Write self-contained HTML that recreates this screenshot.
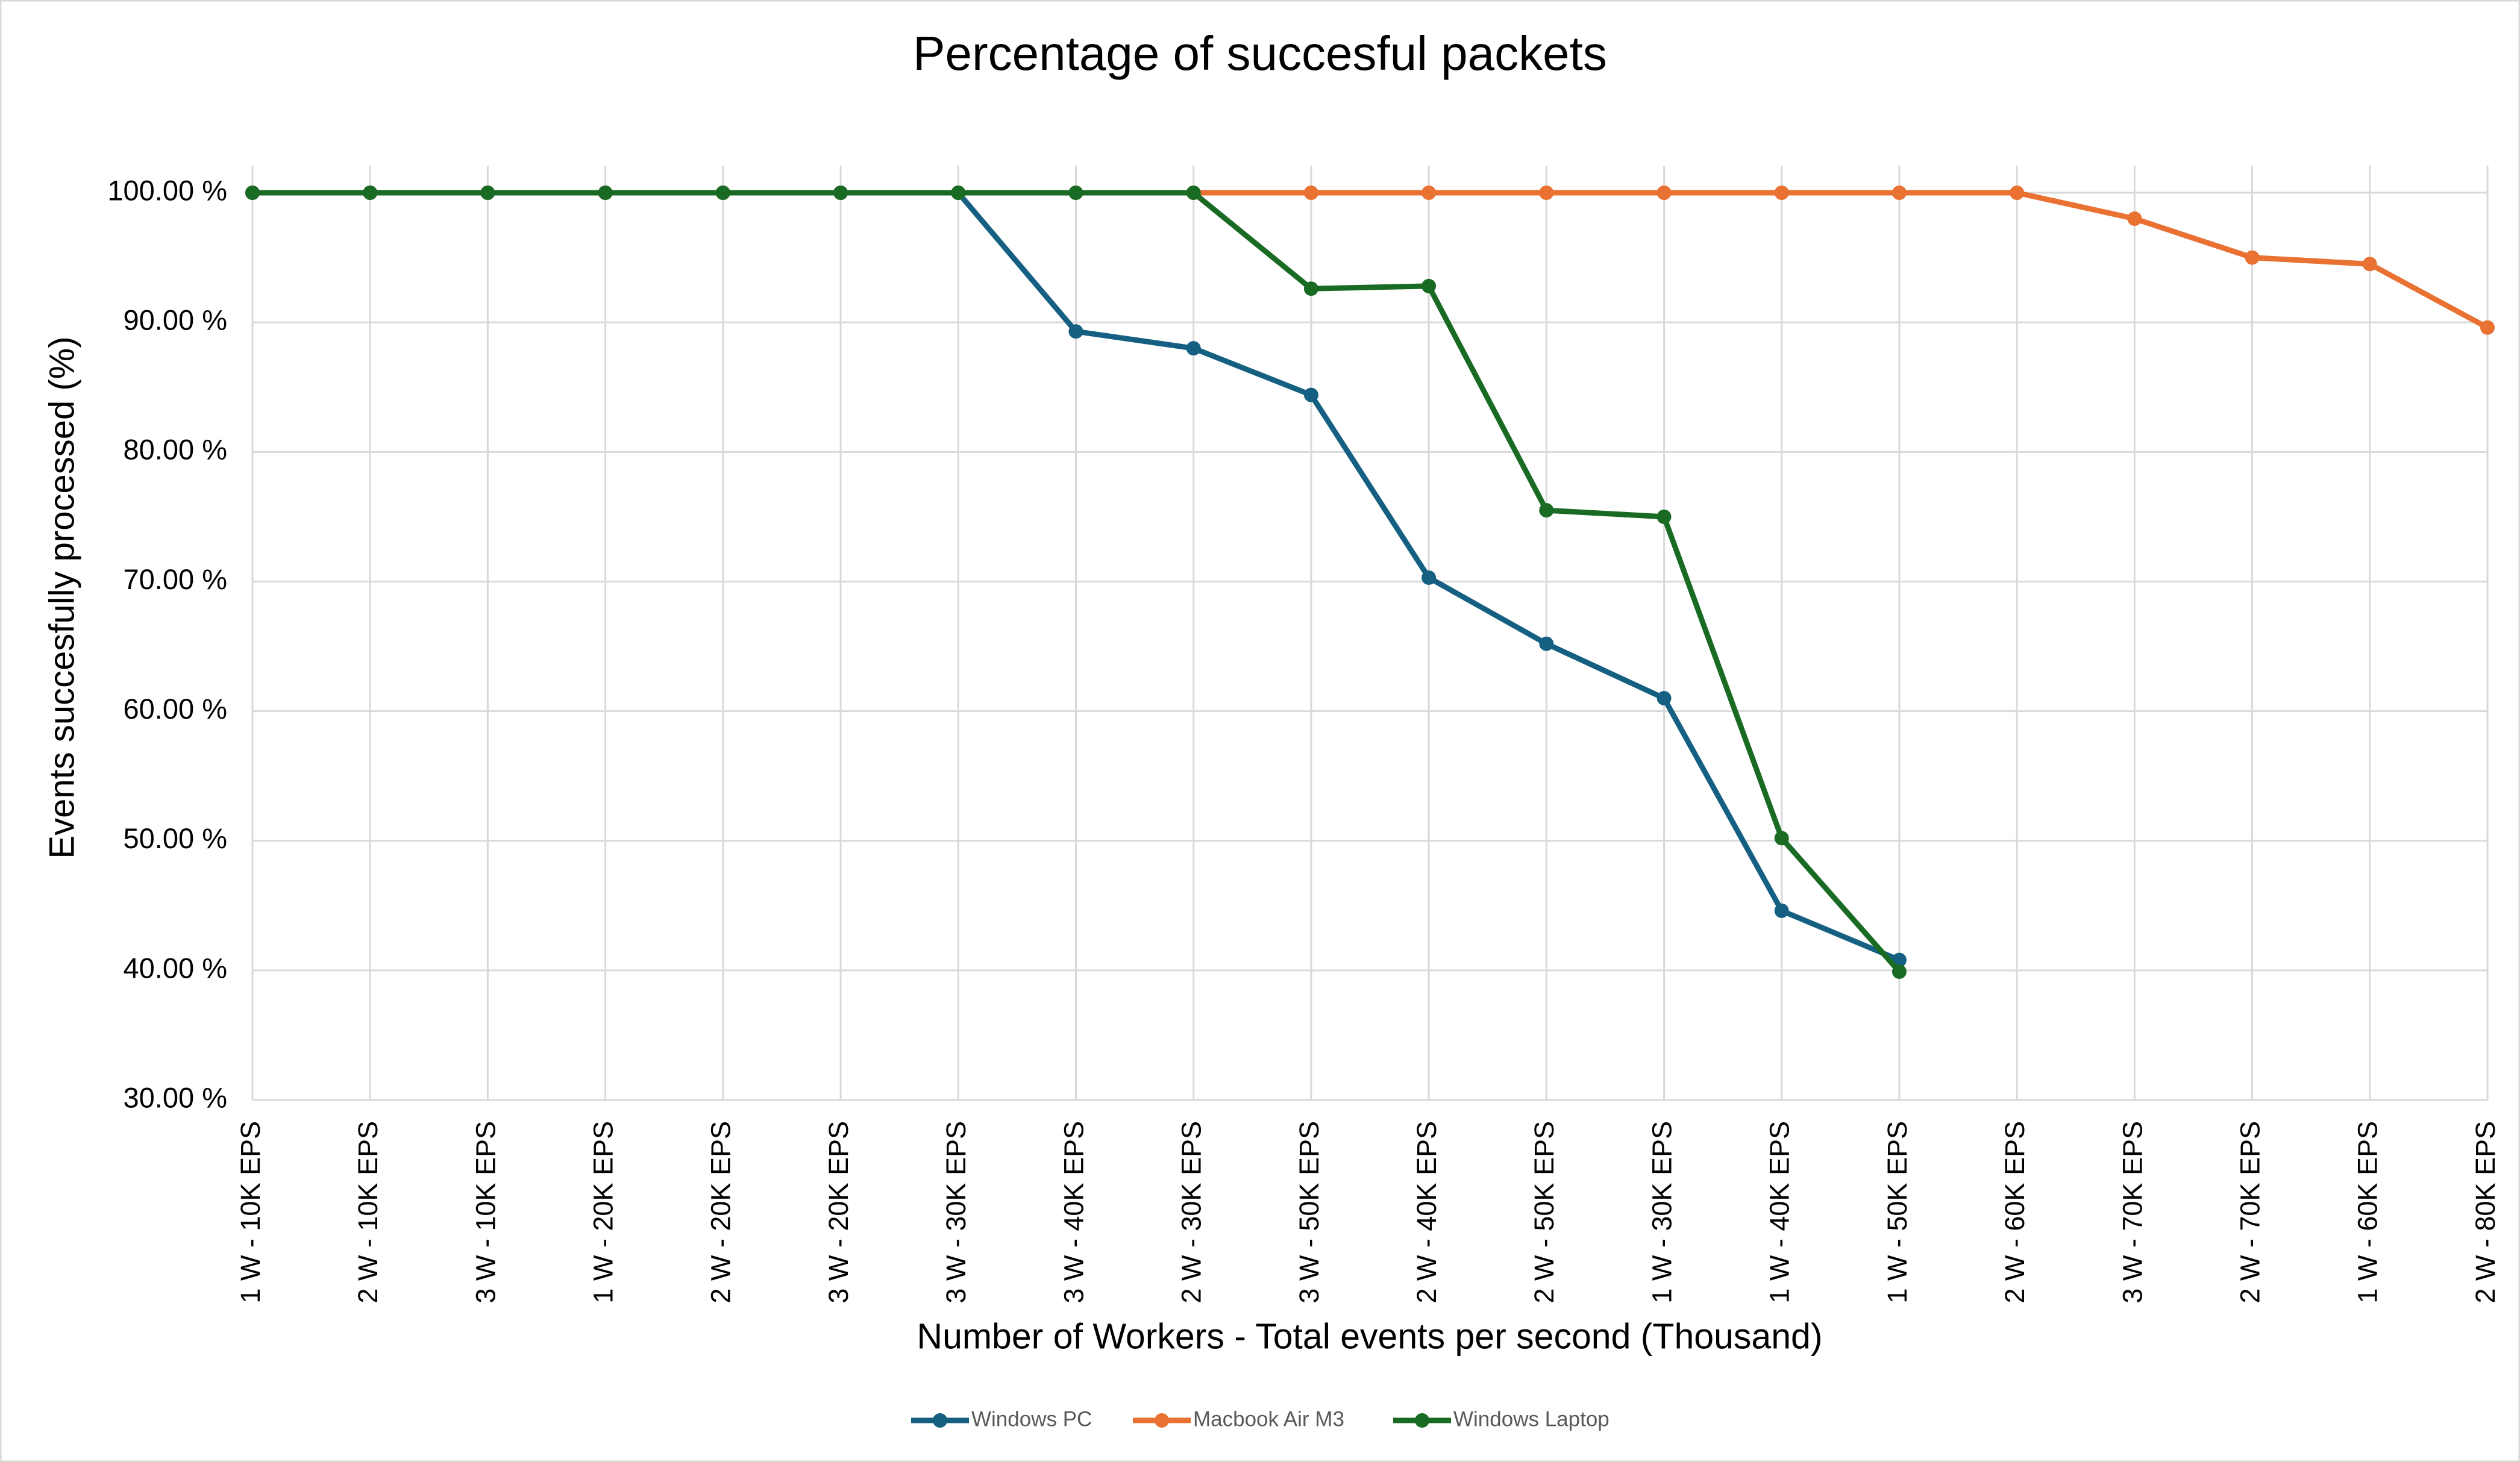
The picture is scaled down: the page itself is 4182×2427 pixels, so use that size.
<!DOCTYPE html>
<html><head><meta charset="utf-8"><style>
html,body{margin:0;padding:0;background:#fff}
svg{display:block;font-family:"Liberation Sans",sans-serif}
</style></head><body>
<svg id="chart" width="4182" height="2427" viewBox="0 0 4182 2427">
<rect x="1" y="1" width="4180" height="2425" fill="#fff" stroke="#d9d9d9" stroke-width="3"/>
<text x="2091" y="95" font-size="80" text-anchor="middle" dominant-baseline="middle" fill="#000">Percentage of succesful packets</text>
<g id="grid"></g><g id="yticks"></g><g id="xticks"></g><g id="series"></g>
<text x="0" y="0" font-size="58" text-anchor="middle" dominant-baseline="middle" transform="translate(107,992) rotate(-90)">Events succesfully processed (%)</text>
<text x="2273" y="2223" font-size="59" text-anchor="middle" dominant-baseline="middle">Number of Workers - Total events per second (Thousand)</text>
<g id="legend"></g>
</svg>
<script>
const categories=["1 W - 10K EPS","2 W - 10K EPS","3 W - 10K EPS","1 W - 20K EPS","2 W - 20K EPS","3 W - 20K EPS","3 W - 30K EPS","3 W - 40K EPS","2 W - 30K EPS","3 W - 50K EPS","2 W - 40K EPS","2 W - 50K EPS","1 W - 30K EPS","1 W - 40K EPS","1 W - 50K EPS","2 W - 60K EPS","3 W - 70K EPS","2 W - 70K EPS","1 W - 60K EPS","2 W - 80K EPS"];
const windowsPC=[100,100,100,100,100,100,100,89.3,88.0,84.4,70.3,65.2,61.0,44.6,40.8,null,null,null,null,null];
const macbookAirM3=[100,100,100,100,100,100,100,100,100,100,100,100,100,100,100,100,98.0,95.0,94.5,89.6];
const windowsLaptop=[100,100,100,100,100,100,100,100,100,92.6,92.8,75.5,75.0,50.2,39.9,null,null,null,null,null];
const yTicks=[30,40,50,60,70,80,90,100];
const seriesNames=["Windows PC","Macbook Air M3","Windows Laptop"];
const NS="http://www.w3.org/2000/svg";
const X0=419,X1=4128,Y0=1826,Y1=320,YMIN=30,YMAX=100;
function xs(i){return X0+(X1-X0)*i/(categories.length-1);}
function ys(v){return Y0-(Y0-Y1)*(v-YMIN)/(YMAX-YMIN);}
function mk(tag,attrs,parent){const e=document.createElementNS(NS,tag);for(const k in attrs)e.setAttribute(k,attrs[k]);parent.appendChild(e);return e;}
const grid=document.getElementById('grid'),yt=document.getElementById('yticks'),xt=document.getElementById('xticks'),ser=document.getElementById('series'),leg=document.getElementById('legend');
yTicks.forEach(v=>{
  const l=mk('line',{x1:X0,x2:X1,y1:ys(v),y2:ys(v),stroke:'#d9d9d9','stroke-width':3},grid);
  
  
  const t=mk('text',{x:X0-42,y:ys(v),'font-size':47,'text-anchor':'end','dominant-baseline':'middle'},yt);
  t.textContent=v.toFixed(2)+' %';
  
  
});
categories.forEach((c,i)=>{
  const l=mk('line',{x1:xs(i),x2:xs(i),y1:Y1-45,y2:Y0,stroke:'#d9d9d9','stroke-width':3},grid);
  
  
  const t=mk('text',{x:0,y:0,'font-size':45,'text-anchor':'end','dominant-baseline':'middle',transform:`translate(${xs(i)},${Y0+35}) rotate(-90)`},xt);
  t.textContent=c;
  
  
});
const data=[windowsPC,macbookAirM3,windowsLaptop];
const colors=["#156082","#E97132","#196B24"];
const keys=["windows-pc","macbook-air-m3","windows-laptop"];
data.forEach((arr,s)=>{
  const g=mk('g',{},ser);
  
  
  let d='';
  arr.forEach((v,i)=>{if(v===null)return;d+=(d?'L':'M')+xs(i)+','+ys(v);});
  const p=mk('path',{d:d,fill:'none',stroke:colors[s],'stroke-width':9,'stroke-linejoin':'round'},g);
  
  
  arr.forEach((v,i)=>{if(v===null)return;
    const c=mk('circle',{cx:xs(i),cy:ys(v),r:12,fill:colors[s]},g);
    
    
  });
});
const legX=[1560,1928,2360];
seriesNames.forEach((n,s)=>{
  const g=mk('g',{},leg);
  
  
  mk('line',{x1:legX[s]-48,x2:legX[s]+48,y1:2358,y2:2358,stroke:colors[s],'stroke-width':9},g);
  mk('circle',{cx:legX[s],cy:2358,r:12,fill:colors[s]},g);
  const t=mk('text',{x:legX[s]+52,y:2358,'font-size':35,'dominant-baseline':'middle',fill:'#595959'},g);
  t.textContent=n;
});
</script>
</body></html>
